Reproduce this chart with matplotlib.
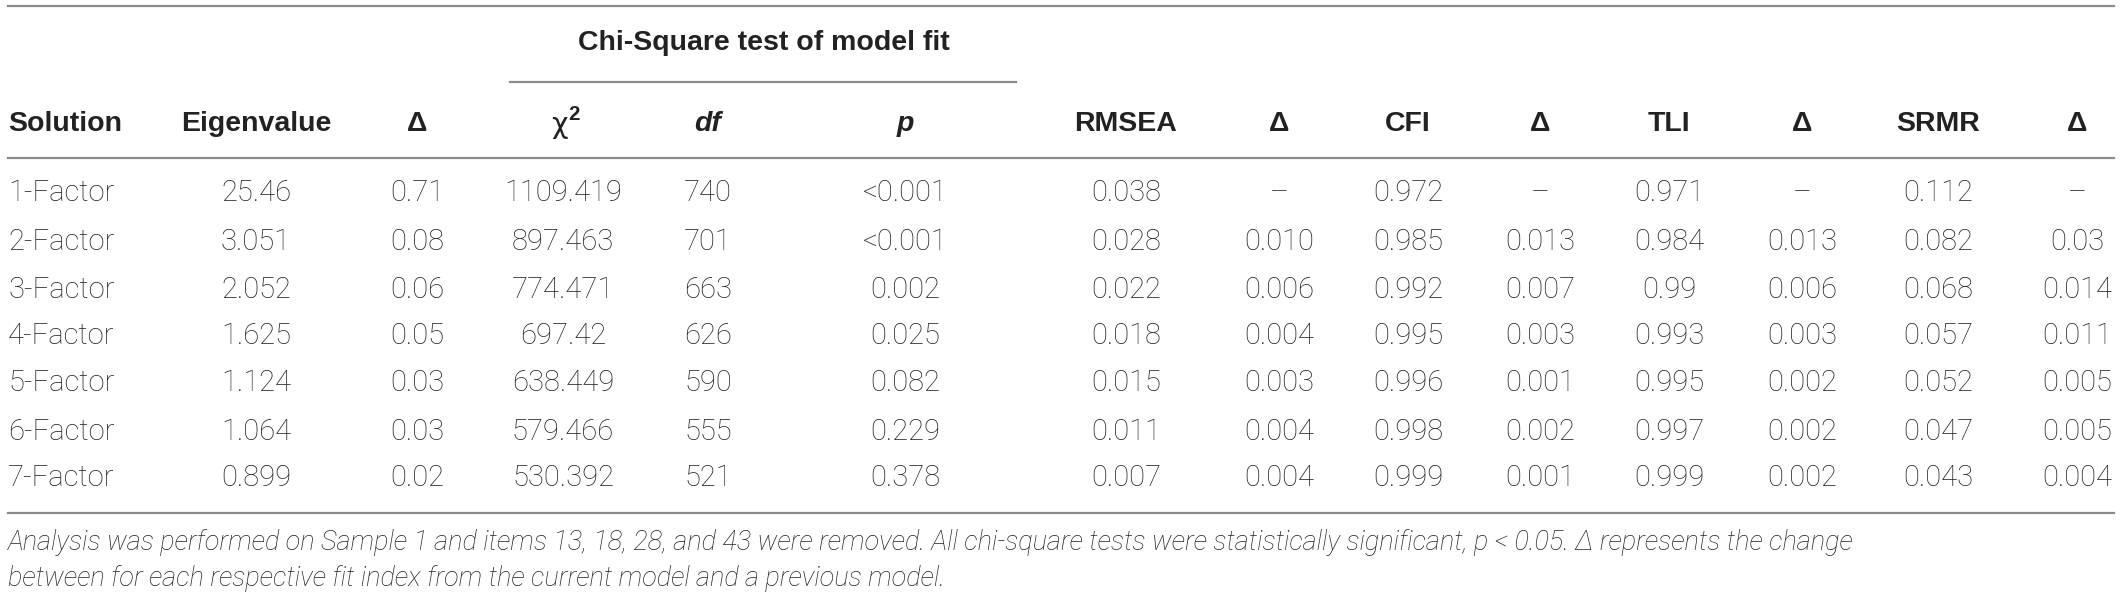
import matplotlib
matplotlib.use("Agg")
import matplotlib.pyplot as plt

solutions = ["1-Factor", "2-Factor", "3-Factor", "4-Factor", "5-Factor", "6-Factor", "7-Factor"]
eigenvalue = ["25.46", "3.051", "2.052", "1.625", "1.124", "1.064", "0.899"]
eig_delta = ["0.71", "0.08", "0.06", "0.05", "0.03", "0.03", "0.02"]
chi_sq = ["1109.419", "897.463", "774.471", "697.42", "638.449", "579.466", "530.392"]
df_vals = ["740", "701", "663", "626", "590", "555", "521"]
p_vals = ["<0.001", "<0.001", "0.002", "0.025", "0.082", "0.229", "0.378"]
rmsea = ["0.038", "0.028", "0.022", "0.018", "0.015", "0.011", "0.007"]
rmsea_delta = ["\u2013", "0.010", "0.006", "0.004", "0.003", "0.004", "0.004"]
cfi = ["0.972", "0.985", "0.992", "0.995", "0.996", "0.998", "0.999"]
cfi_delta = ["\u2013", "0.013", "0.007", "0.003", "0.001", "0.002", "0.001"]
tli = ["0.971", "0.984", "0.99", "0.993", "0.995", "0.997", "0.999"]
tli_delta = ["\u2013", "0.013", "0.006", "0.003", "0.002", "0.002", "0.002"]
srmr = ["0.112", "0.082", "0.068", "0.057", "0.052", "0.047", "0.043"]
srmr_delta = ["\u2013", "0.03", "0.014", "0.011", "0.005", "0.005", "0.004"]

group_header = "Chi-Square test of model fit"
footnote = ["Analysis was performed on Sample 1 and items 13, 18, 28, and 43 were removed. "
            "All chi-square tests were statistically significant, p < 0.05. \u0394 represents the change",
            "between for each respective fit index from the current model and a previous model."]

W, H = 2120, 599
fig = plt.figure(figsize=(W / 100, H / 100), dpi=100)
ax = fig.add_axes([0, 0, 1, 1])
ax.set_xlim(0, W)
ax.set_ylim(H, 0)
ax.axis("off")

DATA_FONT = dict(family=["Roboto", "DejaVu Sans"], fontweight="light", color="#222222")
HEAD_FONT = dict(family=["Liberation Sans", "DejaVu Sans"], fontweight="bold", color="#222222")
FS = 20.5
DFS = 21.0

line_color = "#8a8a8a"
lw = 1.6
# rules
ax.plot([8, 2114], [5.5, 5.5], color=line_color, lw=lw)
ax.plot([510, 1016], [82, 82], color=line_color, lw=lw)
ax.plot([8, 2114], [158, 158], color=line_color, lw=lw)
ax.plot([8, 2114], [513, 513], color=line_color, lw=lw)

# group header
ax.text(764, 43, group_header, ha="center", va="center", fontsize=FS, **HEAD_FONT)

# column headers
col_x = [8, 256, 417, 563, 708, 905, 1126, 1279, 1408, 1540, 1669, 1802, 1938, 2077]
header_y = 124
headers = ["Solution", "Eigenvalue", "\u0394", None, "df", "p", "RMSEA", "\u0394",
           "CFI", "\u0394", "TLI", "\u0394", "SRMR", "\u0394"]
for i, h in enumerate(headers):
    if h is None:
        continue
    style = "italic" if h in ("df", "p") else "normal"
    ha = "left" if i == 0 else "center"
    ax.text(col_x[i], header_y, h, ha=ha, va="center", fontsize=FS, fontstyle=style, **HEAD_FONT)
# chi-square header with superscript
ax.text(col_x[3] - 4, header_y + 1, "\u03c7", ha="center", va="center", fontsize=FS,
        family=["DejaVu Sans"], color="#222222")
ax.text(col_x[3] + 11, header_y - 9, "2", ha="center", va="center", fontsize=FS * 0.72,
        **HEAD_FONT)

columns = [solutions, eigenvalue, eig_delta, chi_sq, df_vals, p_vals, rmsea, rmsea_delta,
           cfi, cfi_delta, tli, tli_delta, srmr, srmr_delta]
row_y = [193, 242, 290, 336, 383, 432, 478]
for ci, col in enumerate(columns):
    for ri, val in enumerate(col):
        ha = "left" if ci == 0 else "center"
        ax.text(col_x[ci], row_y[ri], val, ha=ha, va="center", fontsize=DFS, **DATA_FONT)

# footnote
foot_y = [542, 578]
for y, line in zip(foot_y, footnote):
    ax.text(8, y, line, ha="left", va="center", fontsize=19.5, fontstyle="italic", **DATA_FONT)

fig.savefig("out.png", dpi=100, facecolor="white")
